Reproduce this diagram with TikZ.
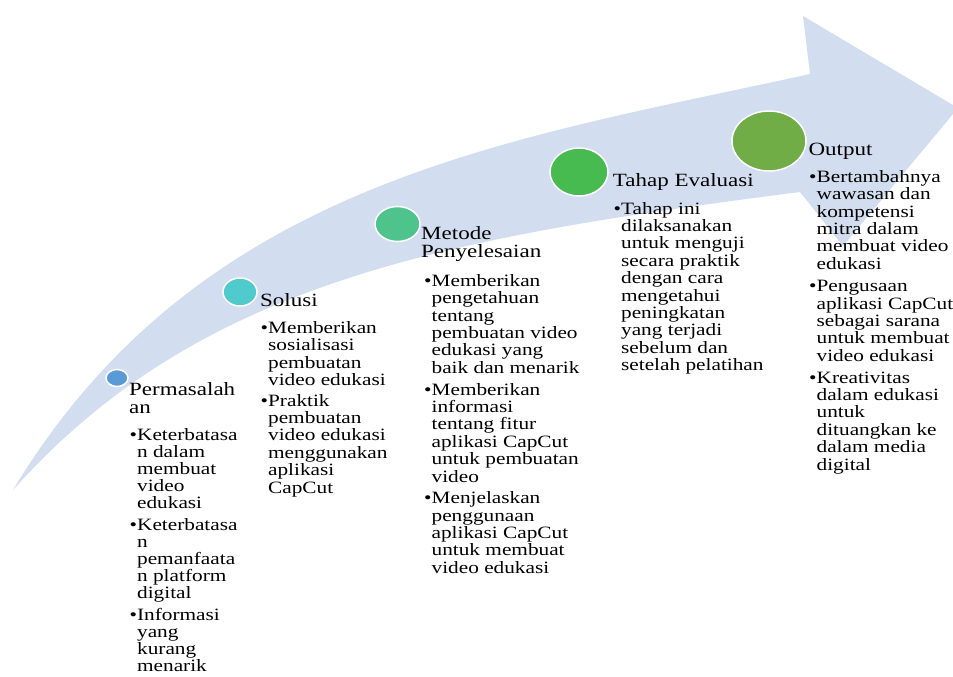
\documentclass[tikz,border=0pt]{standalone}
\usepackage{fontspec}
\setmainfont{Liberation Serif}[FakeStretch=1.23]
\usetikzlibrary{shapes.geometric}
\definecolor{arrowblue}{RGB}{210,222,239}
\definecolor{cP}{RGB}{91,155,213}
\definecolor{cS}{RGB}{80,202,204}
\definecolor{cM}{RGB}{78,196,140}
\definecolor{cT}{RGB}{71,186,80}
\definecolor{cO}{RGB}{112,173,71}
\newcommand{\bu}{•}
\newcommand{\ct}{\phantom{•}}
\begin{document}
\begin{tikzpicture}[x=1pt,y=-1pt,
  dotnode/.style={ellipse, draw=white, line width=1.5pt, inner sep=0pt},
  headtext/.style={anchor=base west, inner sep=0pt, align=left, text=black,
    font=\fontsize{18.7}{17.5}\selectfont},
  bodytext/.style={anchor=base west, inner sep=0pt, align=left, text=black,
    font=\fontsize{17.3}{17.4}\selectfont}]
\useasboundingbox (0,0) rectangle (953,677);
\clip (0,0) rectangle (953,677);
% big curved arrow
\fill[arrowblue] (13,490) .. controls (200,180) and (510,140) .. (810,74)
  -- (803,16) -- (958,108) -- (843,246) -- (800,192)
  .. controls (450,237) and (200,280) .. (13,490) -- cycle;
% circles
\node[dotnode, fill=cP, minimum width=22pt, minimum height=17pt] (dP) at (117,378) {};
\node[dotnode, fill=cS, minimum width=34pt, minimum height=28pt] (dS) at (240,292) {};
\node[dotnode, fill=cM, minimum width=45pt, minimum height=35pt] (dM) at (397.5,224) {};
\node[dotnode, fill=cT, minimum width=58pt, minimum height=48pt] (dT) at (579,172) {};
\node[dotnode, fill=cO, minimum width=74pt, minimum height=60pt] (dO) at (769,141) {};
% headers (anchor = baseline of last line)
\node[headtext] (hP) at (129,413) {Permasalah\\an};
\node[headtext] (hS) at (260,306) {Solusi};
\node[headtext] (hM) at (421,257.3) {Metode\\Penyelesaian};
\node[headtext] (hT) at (612.7,186.7) {Tahap Evaluasi};
\node[headtext] (hO) at (808.3,155) {Output};
% bullet texts (anchor = baseline of last line)
\node[bodytext, font=\fontsize{17.3}{17}\selectfont] (bP) at (129.5,671.5) {\bu Keterbatasa\\ \ct n dalam\\ \ct membuat\\ \ct video\\ \ct edukasi\\[5pt]
\bu Keterbatasa\\ \ct n\\ \ct pemanfaata\\ \ct n platform\\ \ct digital\\[5pt]
\bu Informasi\\ \ct yang\\ \ct kurang\\ \ct menarik};
\node[bodytext] (bS) at (260.5,493) {\bu Memberikan\\ \ct sosialisasi\\ \ct pembuatan\\ \ct video edukasi\\[3pt]
\bu Praktik\\ \ct pembuatan\\ \ct video edukasi\\ \ct menggunakan\\ \ct aplikasi\\ \ct CapCut};
\node[bodytext] (bM) at (424,573.3) {\bu Memberikan\\ \ct pengetahuan\\ \ct tentang\\ \ct pembuatan video\\ \ct edukasi yang\\ \ct baik dan menarik\\[4.3pt]
\bu Memberikan\\ \ct informasi\\ \ct tentang fitur\\ \ct aplikasi CapCut\\ \ct untuk pembuatan\\ \ct video\\[4.3pt]
\bu Menjelaskan\\ \ct penggunaan\\ \ct aplikasi CapCut\\ \ct untuk membuat\\ \ct video edukasi};
\node[bodytext] (bT) at (613.5,370.7) {\bu Tahap ini\\ \ct dilaksanakan\\ \ct untuk menguji\\ \ct secara praktik\\ \ct dengan cara\\ \ct mengetahui\\ \ct peningkatan\\ \ct yang terjadi\\ \ct sebelum dan\\ \ct setelah pelatihan};
\node[bodytext] (bO) at (809,470) {\bu Bertambahnya\\ \ct wawasan dan\\ \ct kompetensi\\ \ct mitra dalam\\ \ct membuat video\\ \ct edukasi\\[5pt]
\bu Pengusaan\\ \ct aplikasi CapCut\\ \ct sebagai sarana\\ \ct untuk membuat\\ \ct video edukasi\\[4.3pt]
\bu Kreativitas\\ \ct dalam edukasi\\ \ct untuk\\ \ct dituangkan ke\\ \ct dalam media\\ \ct digital};
\end{tikzpicture}
\end{document}
